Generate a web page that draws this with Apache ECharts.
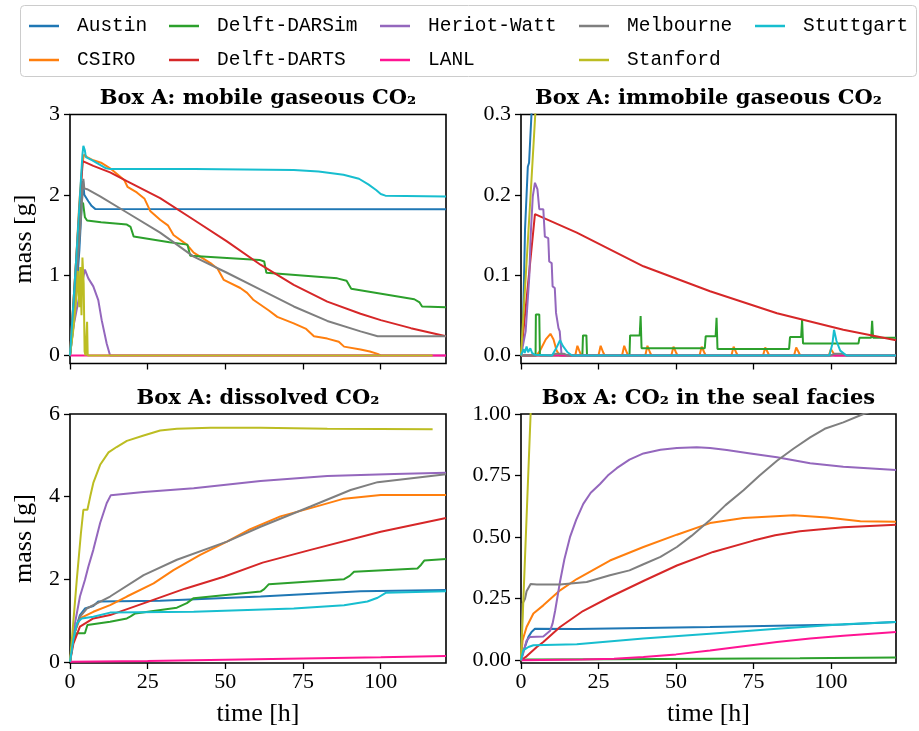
<!DOCTYPE html>
<html>
<head>
<meta charset="utf-8">
<script src="https://cdn.jsdelivr.net/npm/echarts@6/dist/echarts.min.js"></script>
<style>html,body{margin:0;padding:0;background:#fff;}#c{width:919px;height:731px;}</style>
</head>
<body>
<div id="c"></div>
<script>
// ---------- names / legend ----------
const seriesNames = ['Austin','CSIRO','Delft-DARSim','Delft-DARTS','Heriot-Watt','LANL','Melbourne','Stanford','Stuttgart'];
const legendColumns = [['Austin','CSIRO'],['Delft-DARSim','Delft-DARTS'],['Heriot-Watt','LANL'],['Melbourne','Stanford'],['Stuttgart']];
const panelTitles = ['Box A: mobile gaseous CO\u2082','Box A: immobile gaseous CO\u2082','Box A: dissolved CO\u2082','Box A: CO\u2082 in the seal facies'];
const xTicks = [0,25,50,75,100];
const yTicksMobile = [0,1,2,3];
const yTicksImmobile = [0,0.1,0.2,0.3];
const yTicksDissolved = [0,2,4,6];
const yTicksSeal = [0,0.25,0.5,0.75,1.0];

// ---------- panel 1: mobile gaseous CO2 [time h, mass g] ----------
const mobileAustin = [[0,0],[1.5,0.5],[3,1.3],[3.8,1.9],[4.2,2.17],[4.6,2.0],[5.9,1.92],[7,1.86],[8.1,1.825],[121,1.82]];
const mobileCSIRO = [[0,0],[1,0.6],[2,1.2],[3,1.9],[4,2.4],[4.5,2.5],[5.5,2.47],[7.5,2.43],[10,2.4],[12.9,2.33],[16,2.23],[17.5,2.18],[18.5,2.1],[21.5,2.03],[24,1.95],[25.8,1.8],[29,1.69],[31.5,1.62],[33.3,1.5],[37.6,1.38],[39.8,1.28],[45.2,1.15],[47.5,1.08],[49.5,0.94],[54.8,0.84],[57,0.78],[59.1,0.69],[64,0.56],[66.7,0.48],[72,0.4],[76,0.33],[78.5,0.24],[82.8,0.21],[86.5,0.17],[88.2,0.11],[93.5,0.075],[96.5,0.05],[99,0.02],[100,0]];
const mobileDARSim = [[0,0],[1,0.5],[2,1.1],[3,1.6],[3.5,1.89],[4.2,1.9],[4.8,1.72],[5.5,1.68],[10,1.66],[18.3,1.63],[19.5,1.6],[20.5,1.48],[32,1.41],[37.8,1.38],[38.7,1.24],[61,1.19],[62.5,1.17],[63.2,1.03],[86,0.96],[89,0.93],[90.5,0.83],[110.8,0.7],[112.5,0.66],[113.3,0.61],[121,0.6]];
const mobileDARTS = [[0,0],[1,0.6],[2,1.2],[3,1.8],[4.1,2.42],[7.5,2.36],[12.9,2.28],[18.3,2.17],[29,1.96],[39.8,1.69],[50.5,1.42],[61.3,1.13],[72,0.88],[82.8,0.67],[93.5,0.52],[100,0.44],[109.7,0.34],[121,0.24]];
const mobileHW = [[0,0],[1.1,0.36],[3.2,0.78],[4.8,1.07],[5.9,0.96],[7.5,0.86],[9.1,0.69],[10.2,0.44],[11.8,0.15],[12.9,0],[121,0]];
const mobileLANL = [[0,0],[121,0]];
const mobileMelbourne = [[0,0],[2,0.9],[3.5,1.7],[4.3,2.2],[4.6,2.08],[5.5,2.07],[9.7,1.98],[18.3,1.78],[29,1.53],[39.8,1.23],[50.5,1.03],[61.3,0.82],[72,0.61],[82.8,0.43],[93.5,0.3],[99,0.24],[121,0.24]];
const mobileStanford = [[0,0],[1,0.3],[2,0.7],[2.5,1.05],[3,0.6],[3.3,1.1],[3.7,0.5],[4,1.22],[4.4,0.9],[4.7,0.05],[5,0],[5.4,0],[5.5,0.42],[5.7,0],[116.7,0]];
const mobileStuttgart = [[0,0],[1,0.6],[2,1.2],[3,1.85],[4,2.5],[4.3,2.61],[4.8,2.55],[5.1,2.47],[7.2,2.43],[9.4,2.38],[11.6,2.33],[13,2.32],[40,2.32],[72,2.31],[80,2.29],[88,2.25],[93,2.2],[96,2.13],[98.5,2.06],[100,2.01],[101.5,1.99],[121,1.98]];

// ---------- panel 2: immobile gaseous CO2 ----------
const immAustin = [[0,0],[0.5,0.02],[1,0.1],[1.3,0.157],[1.8,0.2],[2.2,0.235],[2.6,0.24],[3.4,0.302],[4,0.36],[121,0.36]];
const immCSIRO = [[0,0],[5,0],[6,0.005],[8,0.02],[9.5,0.027],[10.5,0.02],[11.5,0.006],[12.5,0],[17.5,0],[18.2,0.012],[19,0.004],[19.5,0],[25,0],[25.7,0.012],[26.5,0.004],[27,0],[32.6,0],[33.3,0.012],[34.1,0.004],[34.6,0],[40.1,0],[40.8,0.012],[41.6,0.004],[42.1,0],[48.5,0],[49.2,0.011],[50,0.004],[50.5,0],[57.6,0],[58.3,0.011],[59.1,0.004],[59.6,0],[67.9,0],[68.6,0.011],[69.4,0.004],[69.9,0],[78.1,0],[78.8,0.01],[79.6,0.004],[80.1,0],[88.1,0],[88.8,0.01],[89.6,0.004],[90.1,0],[99.3,0],[100,0.008],[100.8,0.003],[101.3,0],[121,0]];
const immDARSim = [[0,0],[4.7,0],[4.8,0.051],[5.9,0.051],[6.1,0],[19.8,0],[20,0.025],[21.1,0.025],[21.3,0],[35,0],[35.2,0.025],[38.3,0.025],[38.6,0.049],[38.9,0.009],[59.3,0.009],[59.6,0.024],[62.8,0.024],[63.1,0.047],[63.4,0.008],[86.5,0.008],[86.8,0.023],[90.4,0.023],[90.7,0.044],[91,0.015],[108.9,0.015],[109.2,0.022],[113,0.022],[113.3,0.043],[113.6,0.022],[121,0.022]];
const immDARTS = [[0,0],[4.5,0.176],[18,0.153],[39.5,0.111],[61,0.08],[82.6,0.0525],[104,0.032],[121,0.019]];
const immHW = [[0,0],[1.5,0.03],[2.7,0.1],[3.1,0.148],[3.8,0.198],[4.5,0.215],[5.3,0.207],[5.9,0.182],[7.2,0.182],[7.7,0.148],[8.8,0.146],[9.1,0.117],[9.9,0.115],[10.2,0.086],[10.9,0.084],[11.3,0.053],[12.1,0.034],[12.5,0.03],[13.1,0],[121,0]];
const immLANL = [[0,0],[121,0]];
const immMelbourne = [[0,0],[10,0],[11,0.002],[14,0.002],[15,0],[100,0],[101,0.002],[104,0.002],[105,0],[121,0]];
const immStanford = [[0,0],[3.1,0.2],[4.6,0.3],[5,0.33],[116.7,0.33]];
const immStuttgart = [[0,0],[0.8,0.008],[1.2,0.003],[1.8,0.011],[2.3,0.004],[3,0.009],[3.6,0.003],[4.5,0.001],[10,0],[11.5,0.01],[12.6,0.019],[13.5,0.012],[15,0.004],[16.5,0],[99.5,0],[100.5,0.015],[101,0.032],[101.8,0.018],[103,0.006],[105,0],[121,0]];

// ---------- panel 3: dissolved CO2 ----------
const disAustin = [[0,0],[1,0.6],[3.2,1.13],[4.8,1.29],[7.5,1.35],[9.1,1.46],[29,1.48],[61.3,1.58],[93.5,1.71],[121,1.74]];
const disCSIRO = [[0,0],[1,0.6],[3.2,1.05],[7.5,1.21],[12.9,1.37],[18.3,1.58],[26.9,1.9],[33.3,2.22],[41.9,2.59],[50.5,2.91],[58,3.21],[67.7,3.52],[77.4,3.72],[88.2,3.95],[100,4.04],[121,4.04]];
const disDARSim = [[0,0],[1,0.5],[2.2,0.69],[4.8,0.69],[5.6,0.89],[12.9,0.97],[18.3,1.05],[19.5,1.1],[21,1.17],[34.4,1.31],[37.6,1.42],[39.8,1.54],[61.3,1.7],[62.5,1.76],[64,1.88],[88.2,2.0],[90,2.08],[91.4,2.18],[111.8,2.26],[113,2.35],[114,2.45],[121,2.49]];
const disDARTS = [[0,0],[1.1,0.44],[3.2,0.85],[7.5,1.05],[12.9,1.13],[25,1.45],[37,1.77],[49.5,2.06],[62,2.4],[77.4,2.71],[100,3.15],[121,3.48]];
const disHW = [[0,0],[1.6,0.93],[3.2,1.58],[4.8,1.98],[5.9,2.3],[7.5,2.71],[9.7,3.36],[11.8,3.84],[13.1,4.03],[23.7,4.11],[39.8,4.2],[61.3,4.38],[82.8,4.5],[104.3,4.55],[121,4.58]];
const disLANL = [[0,0],[25,0.02],[50,0.05],[75,0.08],[100,0.11],[121,0.14]];
const disMelbourne = [[0,0],[1,0.6],[3.2,1.09],[5.4,1.29],[12.9,1.58],[23.7,2.1],[34.4,2.47],[50.5,2.91],[61.3,3.27],[77.4,3.76],[90.3,4.16],[99,4.35],[121,4.54]];
const disStanford = [[0,0],[1,0.9],[2.2,2.0],[3.5,3.1],[4.3,3.68],[5.6,3.68],[6.5,4.0],[7.5,4.33],[9.7,4.77],[12.4,5.07],[15,5.2],[18.3,5.35],[23.7,5.48],[29,5.6],[34.4,5.64],[45.2,5.67],[61.3,5.67],[82.8,5.64],[116.7,5.63]];
const disStuttgart = [[0,0],[1,0.5],[2.2,0.93],[3.8,1.05],[7.5,1.09],[12.9,1.19],[39.8,1.21],[72,1.29],[88.2,1.37],[95.7,1.46],[99,1.55],[101.6,1.67],[121,1.71]];

// ---------- panel 4: CO2 in the seal facies ----------
const sealAustin = [[0,0],[0.7,0.034],[2.4,0.095],[3.4,0.115],[4.5,0.128],[18,0.127],[61,0.135],[104,0.145],[121,0.155]];
const sealCSIRO = [[0,0],[0.5,0.08],[1.8,0.135],[4,0.19],[7.2,0.223],[12.6,0.284],[18,0.33],[28.7,0.405],[39.5,0.46],[50.3,0.51],[61,0.557],[71.8,0.578],[88,0.589],[98.7,0.58],[109.5,0.565],[121,0.563]];
const sealDARSim = [[0,0],[2,0.003],[30,0.004],[60,0.006],[90,0.008],[121,0.011]];
const sealDARTS = [[0,0],[1.8,0.016],[5.1,0.054],[7.2,0.074],[12.6,0.135],[20,0.2],[28.7,0.257],[40,0.325],[50.3,0.385],[62,0.44],[75,0.486],[82,0.508],[90,0.524],[104,0.54],[121,0.55]];
const sealHW = [[0,0],[0.75,0.03],[1.8,0.08],[2.9,0.095],[7.2,0.097],[9.4,0.12],[10.2,0.15],[11,0.2],[11.8,0.26],[12.6,0.32],[14,0.41],[15.8,0.5],[17.8,0.57],[20.1,0.635],[22.5,0.68],[25.5,0.716],[28,0.75],[30.9,0.78],[35,0.815],[39.5,0.84],[45,0.855],[50.3,0.862],[56.7,0.865],[61,0.862],[66.4,0.854],[74,0.84],[82.6,0.824],[93.3,0.8],[104,0.786],[121,0.773]];
const sealLANL = [[0,0],[20,0.003],[30,0.006],[39.5,0.0135],[50,0.024],[61,0.04],[71.8,0.057],[82.6,0.074],[93.3,0.088],[104,0.1],[121,0.115]];
const sealMelbourne = [[0,0],[0.5,0.23],[1.3,0.25],[1.8,0.28],[2.4,0.28],[3.1,0.31],[5.1,0.308],[12.6,0.308],[21.2,0.318],[28.7,0.345],[35,0.365],[39.5,0.39],[45,0.42],[50.3,0.46],[55,0.505],[61,0.57],[66,0.63],[71.8,0.69],[77,0.75],[82.6,0.81],[88,0.86],[93.3,0.905],[98,0.94],[104,0.966],[110.5,1.0],[121,1.04]];
const sealStanford = [[0,0],[3.1,1.0],[3.6,1.16]];
const sealStuttgart = [[0,0],[0.7,0.04],[2.4,0.054],[4,0.061],[18,0.065],[39.5,0.088],[61,0.108],[82.6,0.128],[104,0.146],[121,0.155]];

const panelData = [
  [mobileAustin, mobileCSIRO, mobileDARSim, mobileDARTS, mobileHW, mobileLANL, mobileMelbourne, mobileStanford, mobileStuttgart],
  [immAustin, immCSIRO, immDARSim, immDARTS, immHW, immLANL, immMelbourne, immStanford, immStuttgart],
  [disAustin, disCSIRO, disDARSim, disDARTS, disHW, disLANL, disMelbourne, disStanford, disStuttgart],
  [sealAustin, sealCSIRO, sealDARSim, sealDARTS, sealHW, sealLANL, sealMelbourne, sealStanford, sealStuttgart]
];
const panelYTicks = [yTicksMobile, yTicksImmobile, yTicksDissolved, yTicksSeal];

// ---------- styling / layout ----------
const colors = ['#1f77b4','#ff7f0e','#2ca02c','#d62728','#9467bd','#ff1493','#7f7f7f','#bcbd22','#17becf'];
const gridBoxes = [
  {left:70, top:114.5, width:376, height:249},
  {left:521, top:114.5, width:375, height:249},
  {left:70, top:414, width:376, height:249},
  {left:521, top:414, width:375, height:249}
];
const yRanges = [[-0.1,3],[-0.01,0.3],[-0.03,6],[-0.011,1.0]];
const yFormat = [v=>String(v), v=>v.toFixed(1), v=>String(v), v=>v.toFixed(2)];
const legendLefts = [29,169,380,579,755];
const titleCenters = [[258,88],[708.5,88],[258,388],[708.5,388]];
const serif = 'Liberation Serif';

const grid = gridBoxes.map(g => Object.assign({show:true, borderColor:'#000', borderWidth:1.6, backgroundColor:'transparent'}, g));

const xAxis = gridBoxes.map((g,i) => ({
  type:'value', gridIndex:i, min:0, max:121,
  name: i>=2 ? 'time [h]' : '', nameLocation:'middle', nameGap:38,
  nameTextStyle:{fontFamily:serif, fontSize:26, color:'#000'},
  axisLine:{show:false, onZero:false},
  axisTick:{show:true, length:6, lineStyle:{color:'#000', width:1.3}, customValues:xTicks},
  axisLabel:{show:i>=2, customValues:xTicks, fontFamily:serif, fontSize:22, color:'#000', margin:8},
  splitLine:{show:false}
}));

const yAxis = gridBoxes.map((g,i) => ({
  type:'value', gridIndex:i, min:yRanges[i][0], max:yRanges[i][1],
  name: (i%2===0) ? 'mass [g]' : '', nameLocation:'middle', nameGap:33,
  nameTextStyle:{fontFamily:serif, fontSize:26, color:'#000'},
  axisLine:{show:false, onZero:false},
  axisTick:{show:true, length:6, lineStyle:{color:'#000', width:1.3}, customValues:panelYTicks[i]},
  axisLabel:{show:true, customValues:panelYTicks[i], fontFamily:serif, fontSize:22, color:'#000', margin:10, formatter:yFormat[i]},
  splitLine:{show:false}
}));

const series = [];
panelData.forEach((arrs, p) => {
  arrs.forEach((d, k) => {
    series.push({
      type:'line', name:seriesNames[k], xAxisIndex:p, yAxisIndex:p,
      data:d, showSymbol:false, symbol:'none', clip:true,
      lineStyle:{width:2, color:colors[k]}, itemStyle:{color:colors[k]},
      emphasis:{disabled:true}, silent:true, z:2+k
    });
  });
});

const legend = legendColumns.map((col, i) => ({
  orient:'vertical', left:legendLefts[i], top:16, padding:0,
  icon:'rect', itemWidth:30, itemHeight:2.5, itemGap:14, selectedMode:false,
  data:col,
  textStyle:{fontFamily:'Liberation Mono', fontSize:19.5, color:'#000', padding:[0,0,0,13]}
}));

const title = panelTitles.map((t,i) => ({
  text:t, left:titleCenters[i][0], top:titleCenters[i][1], textAlign:'center', padding:0,
  textStyle:{fontFamily:'DejaVu Serif', fontWeight:'bold', fontSize:21, color:'#000'}
}));

const chart = echarts.init(document.getElementById('c'), null, {renderer:'canvas'});
chart.setOption({
  animation:false,
  backgroundColor:'#fff',
  color:colors,
  title, legend, grid, xAxis, yAxis, series,
  graphic:[{type:'rect', z:-1, shape:{x:20.5, y:5.5, width:896, height:71, r:4}, style:{fill:'#fff', stroke:'#cccccc', lineWidth:1}}]
});
</script>
</body>
</html>
